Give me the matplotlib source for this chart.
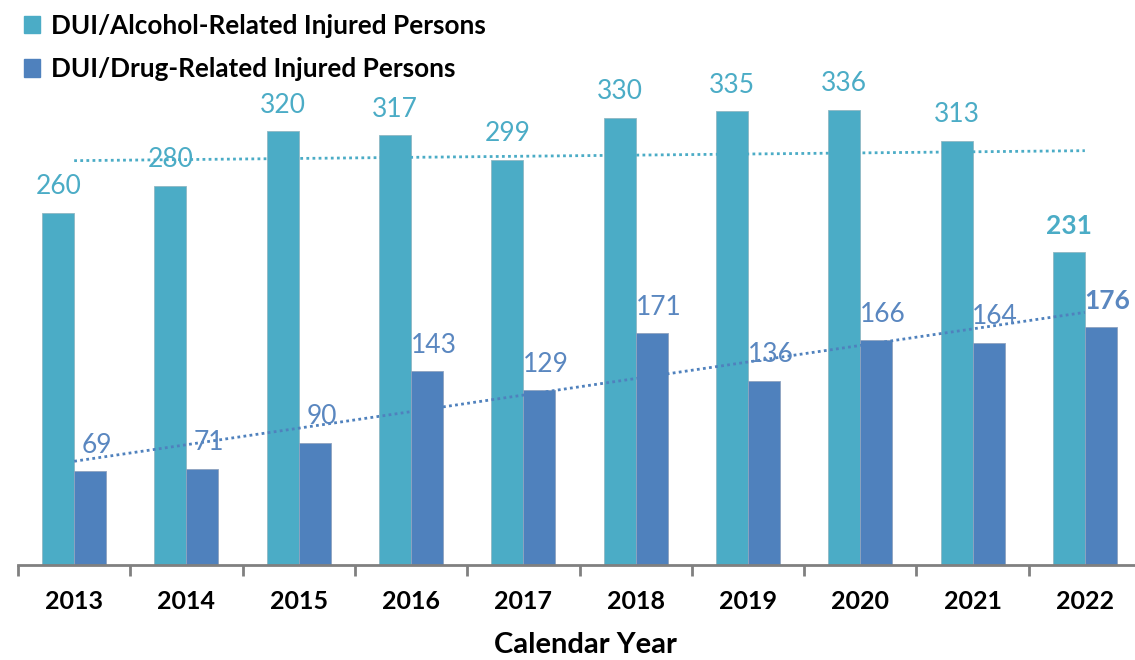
import numpy as np
import matplotlib.pyplot as plt
from matplotlib.patches import Patch

# Дані з графіка
years = ['2013', '2014', '2015', '2016', '2017', '2018', '2019', '2020', '2021', '2022']
alcohol = [260, 280, 320, 317, 299, 330, 335, 336, 313, 231]
drug = [69, 71, 90, 143, 129, 171, 136, 166, 164, 176]

alc_color = '#4BACC6'
drug_color = '#4F81BD'
plt.rcParams['font.family'] = ['Lato', 'DejaVu Sans']

fig = plt.figure(figsize=(11.35, 6.6), dpi=100)
# вісь трохи виходить за правий край, як в оригіналі
ax = fig.add_axes([0.0159, 0.144, 0.9894, 0.856])

x = np.arange(len(years))
w = 0.285
ax.bar(x - w / 2, alcohol, w, color=alc_color, edgecolor='#8fb8c4', linewidth=0.6)
ax.bar(x + w / 2, drug, w, color=drug_color, edgecolor='#8fa3c0', linewidth=0.6)

# Лінії тренду
for vals, col in [(alcohol, alc_color), (drug, drug_color)]:
    k, b = np.polyfit(x, vals, 1)
    ax.plot(x, k * x + b, linestyle=(0, (1, 1.2)), color=col, linewidth=2)

# Підписи значень
for i, (a, d) in enumerate(zip(alcohol, drug)):
    bold = 'bold' if i == len(years) - 1 else 'normal'
    ax.text(i - w / 2, a + 10, str(a), ha='center', va='bottom',
            fontsize=19, color='#4bacc6', fontweight=bold)
    ax.text(i + w / 2 + 0.06, d + 10, str(d), ha='center', va='bottom',
            fontsize=19, color='#5a87c0', fontweight=bold)

ax.set_xlim(-0.5, 9.5)
ax.set_ylim(0, 417)
ax.set_yticks([])
for s in ['left', 'right', 'top']:
    ax.spines[s].set_visible(False)
ax.spines['bottom'].set_color('#808080')
ax.spines['bottom'].set_linewidth(2)

ax.set_xticks(x)
ax.set_xticklabels(years, fontsize=18, fontweight='bold')
ax.tick_params(axis='x', which='major', length=0, pad=18)
ax.set_xticks(np.arange(-0.5, 10, 1), minor=True)
ax.tick_params(axis='x', which='minor', length=8, width=2, color='#808080', direction='out')
ax.set_xlabel('Calendar Year', fontsize=21, fontweight='bold', labelpad=12)
ax.xaxis.set_label_coords(0.5055, -0.118)

handles = [Patch(color=alc_color), Patch(color=drug_color)]
fig.legend(handles, ['DUI/Alcohol-Related Injured Persons', 'DUI/Drug-Related Injured Persons'],
           loc='upper left', bbox_to_anchor=(0.0, 1.015), frameon=False,
           prop={'size': 18.8, 'weight': 'bold'}, handlelength=0.65, handleheight=0.65,
           handletextpad=0.4, labelspacing=0.75)

plt.savefig('out.png', dpi=100)
plt.close()
